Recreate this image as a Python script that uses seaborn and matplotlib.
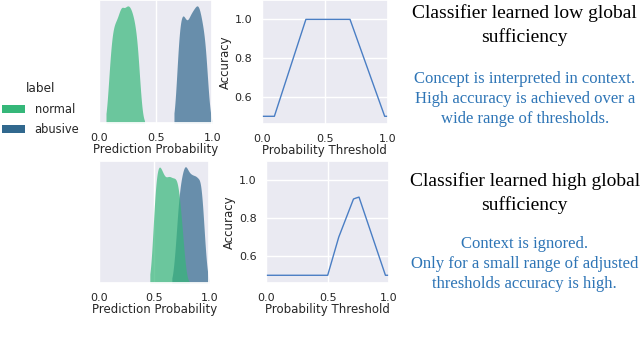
import matplotlib
matplotlib.use("Agg")
import matplotlib.pyplot as plt
from matplotlib.patches import Patch
import seaborn as sns
import pandas as pd

# density profiles (relative height at each probability)
top_normal_x = [0.06, 0.08, 0.10, 0.12, 0.14, 0.16, 0.18, 0.20, 0.22, 0.24,
                0.26, 0.28, 0.30, 0.32, 0.34, 0.36, 0.38, 0.40]
top_normal_w = [0.0, 0.30, 0.62, 0.80, 0.85, 0.88, 0.95, 1.00, 0.96, 0.99,
                1.00, 0.97, 0.91, 0.82, 0.66, 0.32, 0.06, 0.0]
top_abusive_x = [0.66, 0.68, 0.70, 0.72, 0.74, 0.76, 0.78, 0.80, 0.82, 0.84,
                 0.86, 0.88, 0.90, 0.92, 0.94, 0.96, 0.98, 1.00]
top_abusive_w = [0.0, 0.30, 0.72, 0.90, 0.93, 0.88, 0.85, 0.91, 0.94, 0.97,
                 1.00, 1.00, 0.90, 0.80, 0.66, 0.30, 0.05, 0.0]

bot_normal_x = [0.46, 0.48, 0.50, 0.52, 0.54, 0.56, 0.58, 0.60, 0.62, 0.64,
                0.66, 0.68, 0.70, 0.72, 0.74, 0.76, 0.78, 0.80, 0.82]
bot_normal_w = [0.0, 0.25, 0.68, 0.92, 1.00, 0.97, 0.92, 0.88, 0.89, 0.90,
                0.88, 0.88, 0.88, 0.82, 0.62, 0.40, 0.15, 0.02, 0.0]
bot_abusive_x = [0.66, 0.68, 0.70, 0.72, 0.74, 0.76, 0.78, 0.80, 0.82, 0.84,
                 0.86, 0.88, 0.90, 0.92, 0.94, 0.96, 0.98, 1.00]
bot_abusive_w = [0.0, 0.15, 0.40, 0.70, 0.85, 0.94, 1.00, 0.96, 0.92, 0.91,
                 0.90, 0.90, 0.87, 0.88, 0.68, 0.33, 0.08, 0.0]

# accuracy vs threshold
top_thr = [0.0, 0.10, 0.35, 0.70, 0.92, 0.975, 1.0]
top_acc = [0.5, 0.5, 1.0, 1.0, 0.60, 0.5, 0.5]
bot_thr = [0.0, 0.50, 0.59, 0.71, 0.73, 0.755, 0.97, 1.0]
bot_acc = [0.5, 0.5, 0.70, 0.90, 0.905, 0.91, 0.5, 0.5]

labels = ["normal", "abusive"]
colors = {"normal": "#35b779", "abusive": "#31688e"}

titles = ["Classifier learned low global\nsufficiency",
          "Classifier learned high global\nsufficiency"]
notes = ["Concept is interpreted in context.\nHigh accuracy is achieved over a\nwide range of thresholds.",
         "Context is ignored.\nOnly for a small range of adjusted\nthresholds accuracy is high."]

sns.set_theme(style="darkgrid")
plt.rcParams['font.family'] = ['DejaVu Sans']
plt.rcParams['xtick.labelsize'] = 8
plt.rcParams['ytick.labelsize'] = 8
plt.rcParams['axes.labelsize'] = 8.5

fig = plt.figure(figsize=(6.4, 3.38), dpi=100)


def density_df(nx, nw, ax_, aw):
    return pd.DataFrame({
        "prob": nx + ax_,
        "w": nw + aw,
        "label": ["normal"] * len(nx) + ["abusive"] * len(ax_),
    })


dens = [density_df(top_normal_x, top_normal_w, top_abusive_x, top_abusive_w),
        density_df(bot_normal_x, bot_normal_w, bot_abusive_x, bot_abusive_w)]
accs = [(top_thr, top_acc), (bot_thr, bot_acc)]

dens_pos = [[0.155, 0.636, 0.177, 0.364], [0.155, 0.163, 0.172, 0.361]]
acc_pos = [[0.409, 0.633, 0.197, 0.367], [0.416, 0.163, 0.192, 0.361]]
title_y = [0.926, 0.429]
note_y = [0.707, 0.219]

for i in range(2):
    ax = fig.add_axes(dens_pos[i])
    sns.kdeplot(data=dens[i], x="prob", weights="w", hue="label",
                hue_order=labels, palette=colors, fill=True, alpha=0.7,
                linewidth=0, common_norm=True, cut=0, bw_method=0.2,
                legend=False, ax=ax)
    ax.set_xlim(0, 1)
    ax.set_xticks([0, 0.5, 1.0])
    ax.set_xticklabels(["0.0", "0.5", "1.0"])
    ax.set_yticks([])
    ax.set_ylabel("")
    ax.set_xlabel("Prediction Probability", labelpad=0)
    ax.tick_params(axis="x", pad=1)

    ax2 = fig.add_axes(acc_pos[i])
    sns.lineplot(x=accs[i][0], y=accs[i][1], ax=ax2, color="#4a7ec4", linewidth=1.0)
    ax2.set_xlim(0, 1)
    ax2.set_ylim(0.46, 1.1)
    ax2.set_xticks([0, 0.5, 1.0])
    ax2.set_xticklabels(["0.0", "0.5", "1.0"])
    ax2.set_yticks([0.6, 0.8, 1.0])
    ax2.set_xlabel("Probability Threshold", labelpad=0)
    ax2.set_ylabel("Accuracy", labelpad=2)
    ax2.tick_params(axis="both", pad=1)

    fig.text(0.82, title_y[i], titles[i], ha="center", va="center",
             family="Liberation Serif", fontsize=14, color="black",
             linespacing=1.4)
    fig.text(0.82, note_y[i], notes[i], ha="center", va="center",
             family="Liberation Serif", fontsize=12, color="#2e75b6",
             linespacing=1.3)

handles = [Patch(facecolor=colors[l], edgecolor="none") for l in labels]
fig.legend(handles, labels, title="label", loc="center left",
           bbox_to_anchor=(0.0, 0.677), frameon=False, borderpad=0.2,
           borderaxespad=0, fontsize=8.3, title_fontsize=8.7, labelspacing=0.65)

fig.savefig("out.png", dpi=100)
